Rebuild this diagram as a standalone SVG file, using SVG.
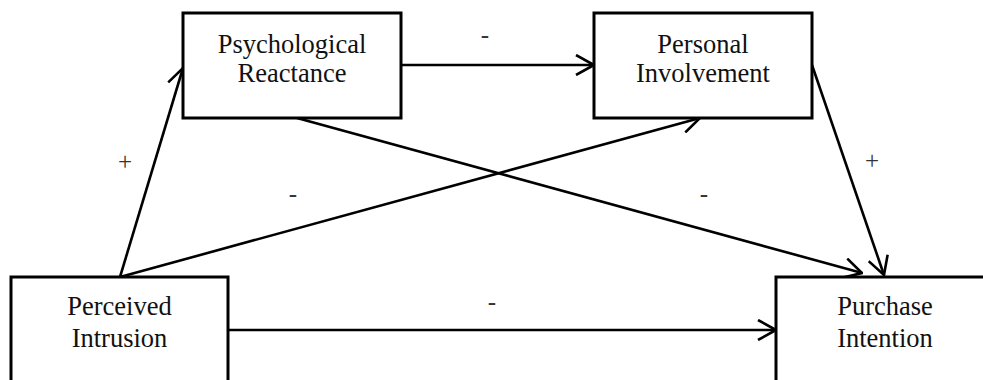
<svg xmlns="http://www.w3.org/2000/svg" width="983" height="380" viewBox="0 0 983 380">
<style>
.box{fill:#fff;stroke:#000;stroke-width:3}
.t{font-family:"Liberation Serif","Times New Roman",serif;font-size:26.5px;fill:#111;text-anchor:middle}
.lbl{font-family:"Liberation Serif","Times New Roman",serif;font-size:25px;fill:#333;text-anchor:middle}
.c{stroke:#000;stroke-width:2.6;fill:none;marker-end:url(#ah)}
</style>
<defs>
<marker id="ah" viewBox="0 0 20 22" refX="19" refY="11" markerWidth="20" markerHeight="22" markerUnits="userSpaceOnUse" orient="auto">
<path d="M1,1 L19,11 L1,21" fill="none" stroke="#000" stroke-width="2.6"/>
</marker>
</defs>
<rect width="983" height="380" fill="#fff"/>
<g id="connectors">
<line class="c" x1="120" y1="277" x2="183" y2="68"/>
<line class="c" x1="120" y1="277" x2="700" y2="118"/>
<line class="c" x1="297" y1="118" x2="862" y2="273"/>
<line class="c" x1="812" y1="65" x2="884" y2="275"/>
<line class="c" x1="401" y1="65" x2="594" y2="65"/>
<line class="c" x1="228" y1="330" x2="776" y2="330"/>
<text class="lbl" x="485" y="43">-</text>
<text class="lbl" x="125" y="170">+</text>
<text class="lbl" x="293" y="202">-</text>
<text class="lbl" x="704" y="202">-</text>
<text class="lbl" x="872" y="169">+</text>
<text class="lbl" x="492" y="310">-</text>
</g>
<g id="psychological-reactance">
<rect class="box" x="183" y="13" width="218" height="105"/>
<text class="t" x="292" y="53">Psychological</text>
<text class="t" x="292" y="82">Reactance</text>
</g>
<g id="personal-involvement">
<rect class="box" x="594" y="13" width="218" height="105"/>
<text class="t" x="703" y="53">Personal</text>
<text class="t" x="703" y="82">Involvement</text>
</g>
<g id="perceived-intrusion">
<rect class="box" x="11" y="277" width="217" height="130"/>
<text class="t" x="119.5" y="315">Perceived</text>
<text class="t" x="119.5" y="347">Intrusion</text>
</g>
<g id="purchase-intention">
<rect class="box" x="776" y="277" width="218" height="130"/>
<text class="t" x="885" y="315">Purchase</text>
<text class="t" x="885" y="347">Intention</text>
</g>
</svg>
